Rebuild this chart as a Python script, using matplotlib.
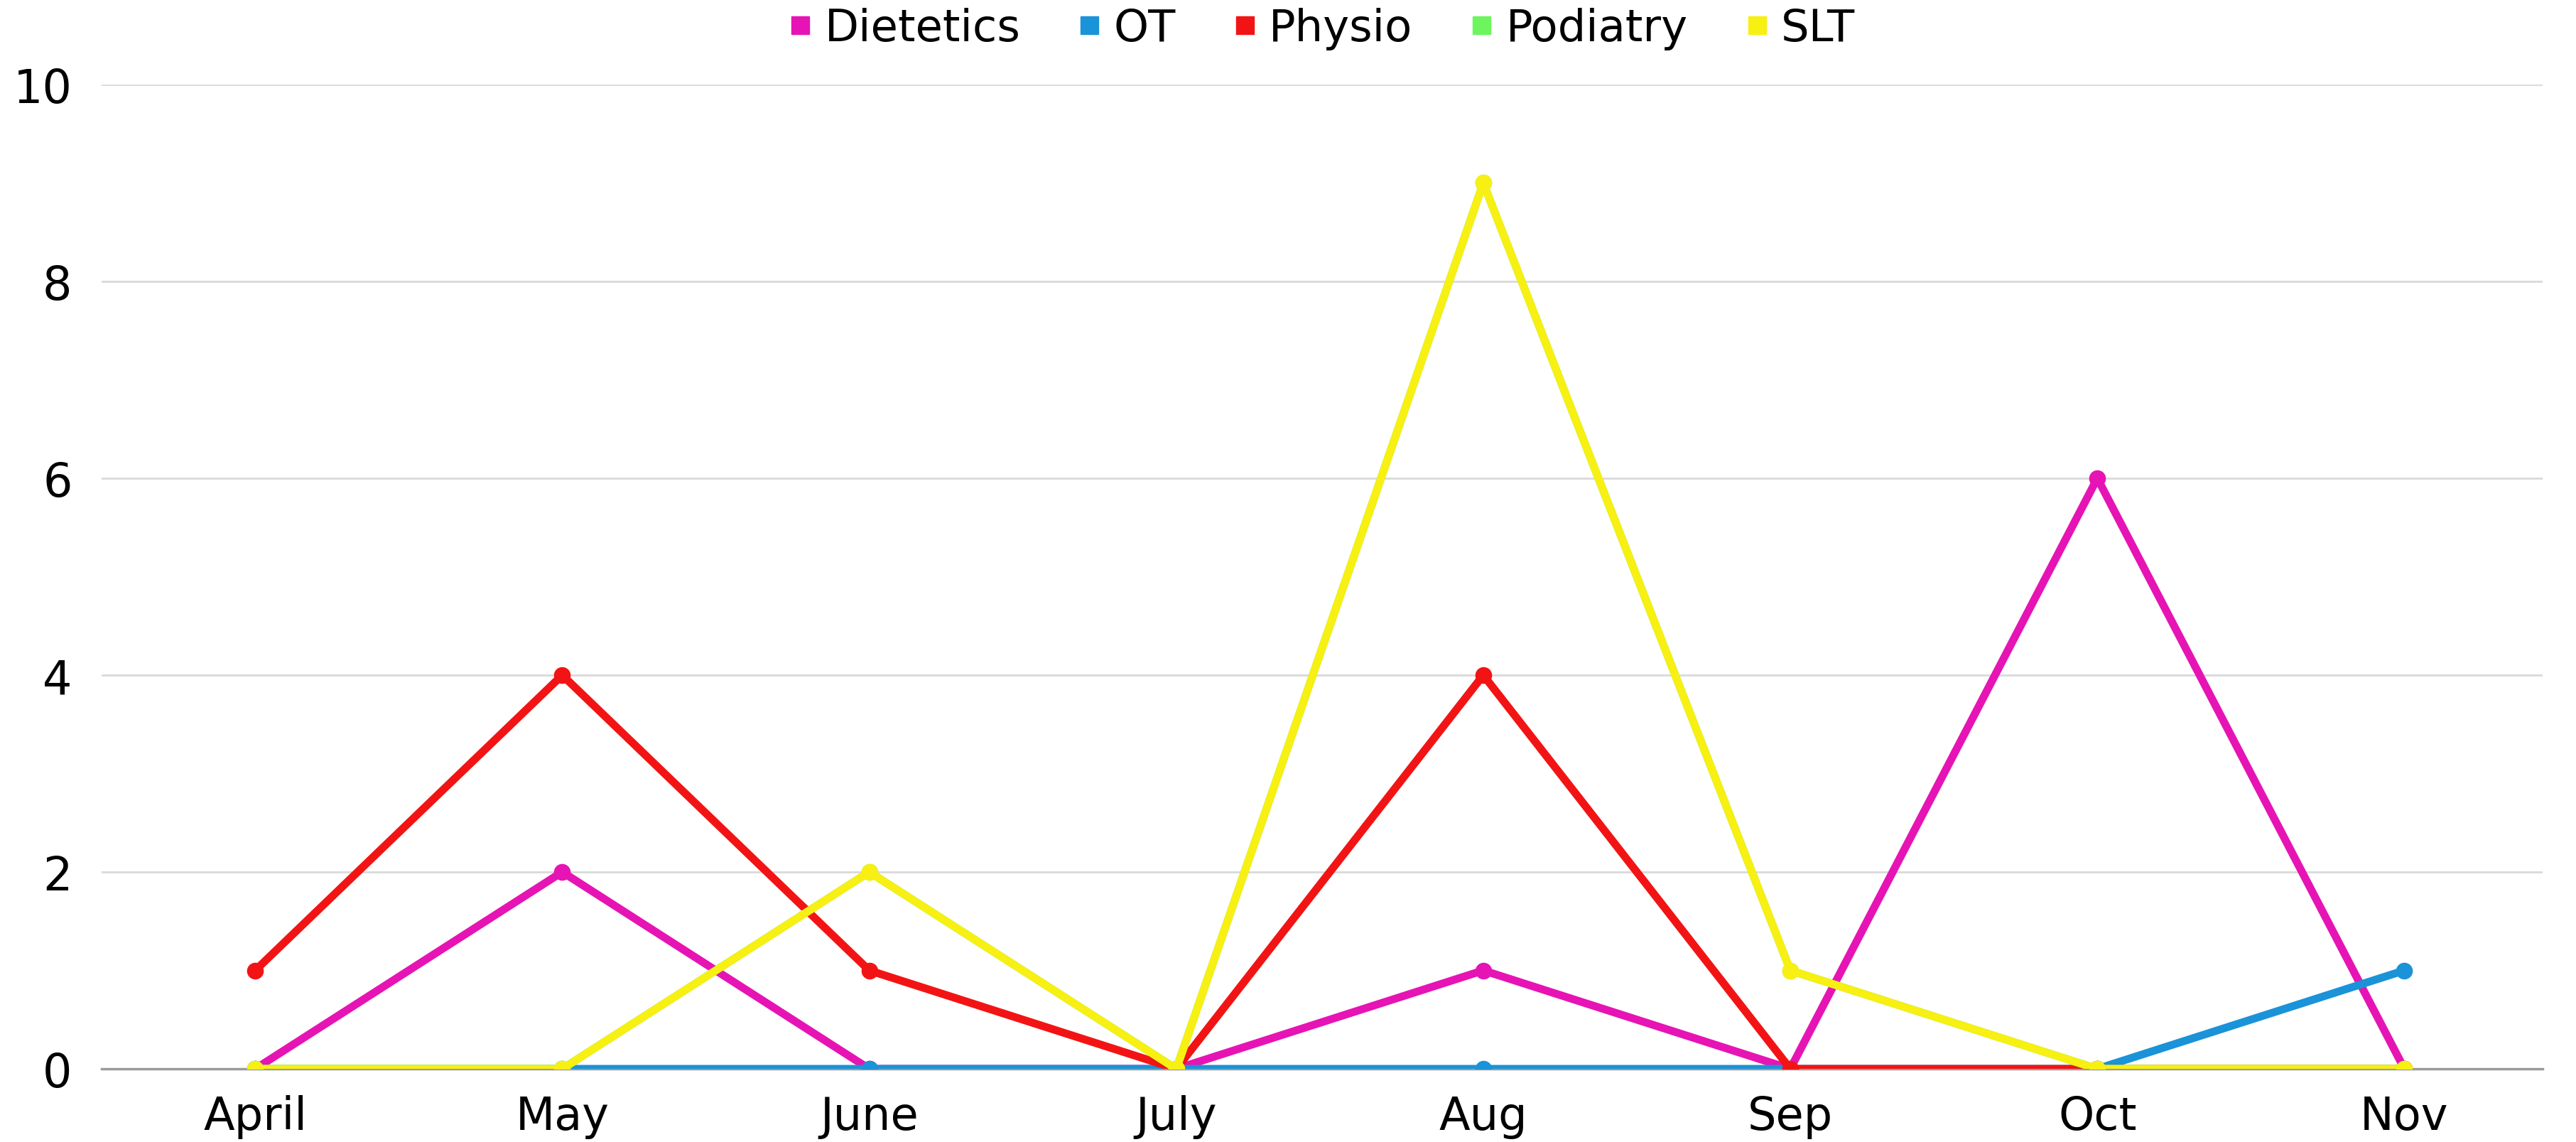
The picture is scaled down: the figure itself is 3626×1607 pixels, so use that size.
import numpy as np
import matplotlib.pyplot as plt
from matplotlib.lines import Line2D

# data
months = ['April', 'May', 'June', 'July', 'Aug', 'Sep', 'Oct', 'Nov']
dietetics = [0, 2, 0, 0, 1, 0, 6, 0]
ot = [0, 0, 0, 0, 0, 0, 0, 1]
physio = [1, 4, 1, 0, 4, 0, 0, 0]
podiatry = [0, 0, 2, 0, 9, 1, 0, 0]
slt = [0, 0, 2, 0, 9, 1, 0, 0]

names = ['Dietetics', 'OT', 'Physio', 'Podiatry', 'SLT']
series = [dietetics, ot, physio, podiatry, slt]
colors = ['#e614b4', '#1a93d8', '#f21414', '#6df55e', '#f7f012']

fig = plt.figure(figsize=(36.26, 16.08), dpi=100)
ax = fig.add_axes([0.0395, 0.064, 0.9475, 0.8614])

x = np.arange(len(months))
for name, vals, c in zip(names, series, colors):
    ax.plot(x, vals, color=c, lw=8, marker='o', markersize=17,
            markeredgewidth=0, solid_joinstyle='round', zorder=3)

ax.set_xlim(-0.5, 7.45)
ax.set_ylim(0, 10)
ax.set_yticks([0, 2, 4, 6, 8, 10])
ax.set_xticks(x)
ax.set_xticklabels(months, fontsize=46)
ax.tick_params(axis='y', labelsize=47, length=0, pad=30)
ax.tick_params(axis='x', length=0, pad=26)
ax.yaxis.grid(True, color='#d9d9d9', lw=2)
ax.set_axisbelow(True)
for s in ['top', 'right', 'left']:
    ax.spines[s].set_visible(False)
ax.spines['bottom'].set_color('#9a9a9a')
ax.spines['bottom'].set_linewidth(2.5)
ax.spines['bottom'].set_zorder(1)

handles = [Line2D([], [], marker='s', linestyle='none', color=c, markersize=18)
           for c in colors]
ax.legend(handles, names, loc='center', bbox_to_anchor=(0.5, 1.057),
          ncol=5, frameon=False, fontsize=45, handlelength=0.5,
          handletextpad=0.3, columnspacing=1.3, borderpad=0)

plt.savefig('out.png', dpi=100)
